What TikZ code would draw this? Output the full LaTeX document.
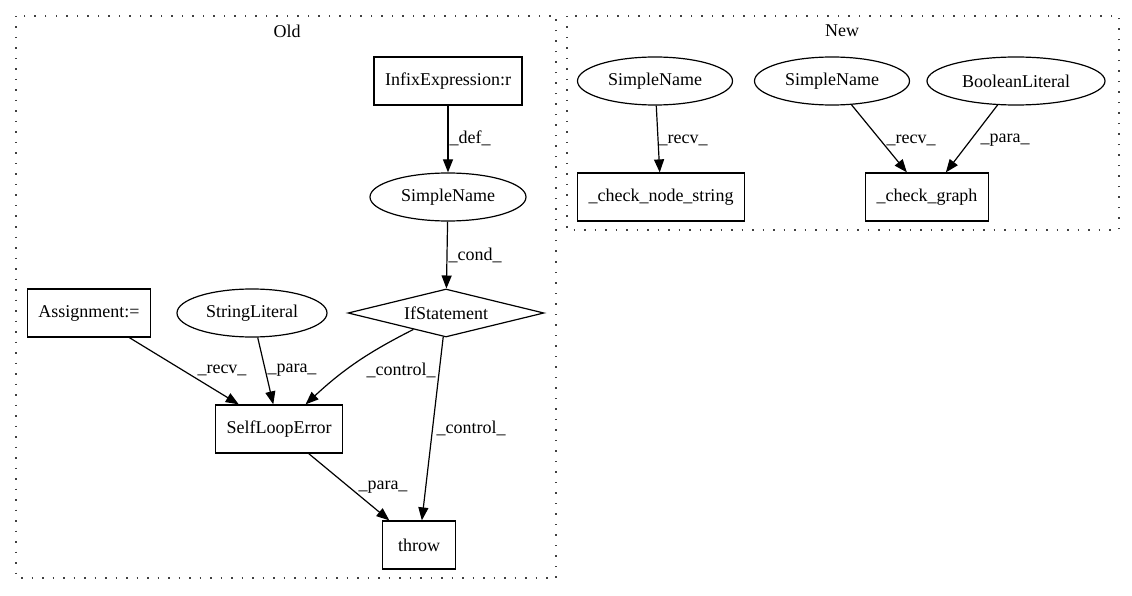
\documentclass[tikz,border=0pt]{standalone}
\usepackage{fontspec}
\setmainfont{Liberation Serif}
\usetikzlibrary{shapes.geometric,arrows.meta}

\begin{document}
\begin{tikzpicture}[x=1pt,y=-1pt,
    every node/.style={font=\fontsize{18}{20}\selectfont},
    box/.style={draw, line width=1.2pt, minimum height=48pt, inner xsep=11pt},
    oval/.style={draw, ellipse, line width=1.2pt, minimum height=48pt, inner sep=0pt},
    cond/.style={draw, diamond, aspect=4, line width=1.2pt, inner sep=0pt,
                 minimum width=196pt, minimum height=48pt},
    arr/.style={line width=1.2pt, -{Triangle[length=13pt,width=10pt]}},
    lbl/.style={inner sep=0pt},
    cluster/.style={draw=black!75, line width=1.5pt, dash pattern=on 1.5pt off 9pt}]
    \useasboundingbox (0,0) rectangle (1132,596);

    % Old
    \draw[cluster] (16,16) rectangle (556,578);
    \node (oldT) at (287,31) {Old};
    \node[box] (infix) at (448,81) {InfixExpression:r};
    \node[oval, minimum width=156pt] (sn) at (448,197) {SimpleName};
    \node[cond] (ifs) at (446,313) {IfStatement};
    \node[box] (asg) at (89,313) {Assignment:=};
    \node[oval, minimum width=150pt] (str) at (252,313) {StringLiteral};
    \node[box] (sle) at (279,429) {SelfLoopError};
    \node[box, minimum width=73pt] (thr) at (419,545) {throw};

    \draw[arr] (infix) -- (sn) node[lbl] (defL) at (470,138) {\_def\_};
    \draw[arr] (sn) -- (ifs) node[lbl] (condL) at (475,255) {\_cond\_};
    \draw[arr] (asg) -- (sle) node[lbl] (recvL) at (222,370) {\_recv\_};
    \draw[arr] (str) -- (sle) node[lbl] (paraL) at (292,370) {\_para\_};
    \draw[arr] (ifs) to[bend right=8] (sle);
    \node[lbl] (ctrlL) at (401,370) {\_control\_};
    \draw[arr] (ifs) -- (thr) node[lbl] (ctrlM) at (471,428) {\_control\_};
    \draw[arr] (sle) -- (thr) node[lbl] (paraM) at (383,487) {\_para\_};

    % New
    \draw[cluster] (567,16) rectangle (1119,230);
    \node (newT) at (842,31) {New};
    \node[oval, minimum width=155pt] (snA) at (655,81) {SimpleName};
    \node[oval, minimum width=155pt] (snB) at (832,81) {SimpleName};
    \node[oval, minimum width=178pt] (bool) at (1016,81) {BooleanLiteral};
    \node[box] (cns) at (661,197) {\_check\_node\_string};
    \node[box] (cg) at (927,197) {\_check\_graph};

    \draw[arr] (snA) -- (cns) node[lbl] (recvA) at (683,140) {\_recv\_};
    \draw[arr] (snB) -- (cg) node[lbl] (recvB) at (911,140) {\_recv\_};
    \draw[arr] (bool) -- (cg) node[lbl] (paraB) at (1005,140) {\_para\_};
\end{tikzpicture}
\end{document}
